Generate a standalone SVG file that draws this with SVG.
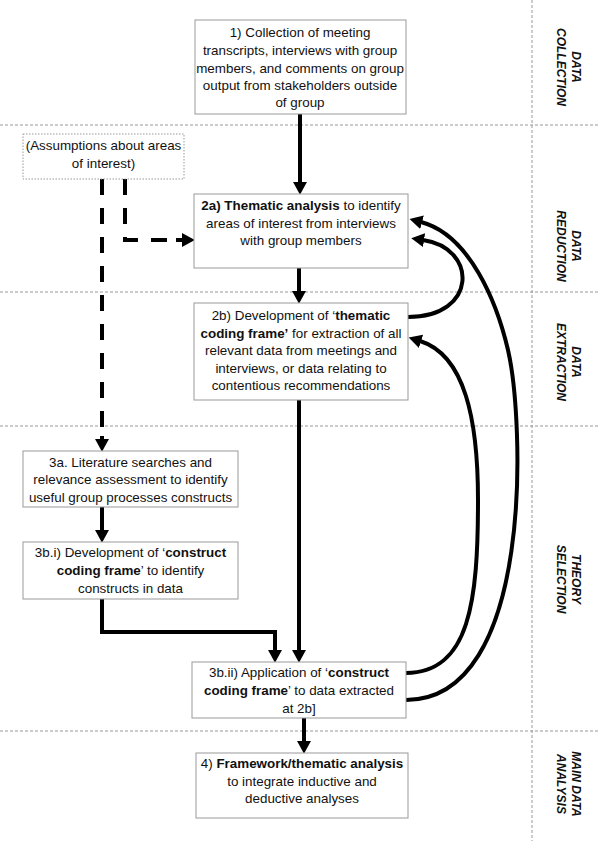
<svg xmlns="http://www.w3.org/2000/svg" width="600" height="841" viewBox="0 0 600 841">
<style>
.bg{fill:#fff}
.sep{stroke:#999;stroke-width:1;stroke-dasharray:3,2;fill:none}
.box{fill:#fff;stroke:#999;stroke-width:1}
.dbox{fill:#fff;stroke:#999;stroke-width:1;stroke-dasharray:1.5,1.5}
.t{font-family:"Liberation Sans",Arial,sans-serif;font-size:13.4px;fill:#111;text-anchor:middle}
.b{font-weight:bold}
.lab{font-family:"Liberation Sans",Arial,sans-serif;font-size:12px;font-weight:bold;font-style:italic;fill:#111;text-anchor:middle}
.ln{fill:none;stroke:#000;stroke-width:4;marker-end:url(#ah)}
.dl{fill:none;stroke:#000;stroke-width:4;stroke-dasharray:16,13}
</style>
<defs>
<marker id="ah" markerUnits="userSpaceOnUse" markerWidth="14" markerHeight="14" refX="1" refY="6.5" orient="auto" viewBox="0 0 13 13">
<path d="M0,0 L12,6.5 L0,13 z" fill="#000"/>
</marker>
</defs>
<rect class="bg" x="0" y="0" width="600" height="841"/>
<g id="separators">
<line class="sep" x1="532" y1="0" x2="532" y2="841"/>
<line class="sep" x1="0" y1="125" x2="600" y2="125"/>
<line class="sep" x1="0" y1="292" x2="600" y2="292"/>
<line class="sep" x1="0" y1="426" x2="600" y2="426"/>
<line class="sep" x1="0" y1="731" x2="600" y2="731"/>
</g>
<g id="labels">
<text class="lab" transform="translate(568,67) rotate(90)"><tspan x="0" y="-4">DATA</tspan><tspan x="0" y="11">COLLECTION</tspan></text>
<text class="lab" transform="translate(568,246) rotate(90)"><tspan x="0" y="-4">DATA</tspan><tspan x="0" y="11">REDUCTION</tspan></text>
<text class="lab" transform="translate(568,362) rotate(90)"><tspan x="0" y="-4">DATA</tspan><tspan x="0" y="11">EXTRACTION</tspan></text>
<text class="lab" transform="translate(568,579) rotate(90)"><tspan x="0" y="-4">THEORY</tspan><tspan x="0" y="11">SELECTION</tspan></text>
<text class="lab" transform="translate(568,784) rotate(90)"><tspan x="0" y="-4">MAIN DATA</tspan><tspan x="0" y="11">ANALYSIS</tspan></text>
</g>
<g id="connectors">
<path class="ln" d="M300,114 V183"/>
<path class="ln" d="M299,268 V292"/>
<path class="dl" d="M102,179 V436"/>
<path d="M102,436 V440" fill="none" stroke="#000" stroke-width="4" marker-end="url(#ah)"/>
<path class="dl" d="M125,179 V240 H175"/>
<path d="M176,240 H183" fill="none" stroke="#000" stroke-width="4" marker-end="url(#ah)"/>
<path class="ln" d="M102,507 V531"/>
<path class="ln" d="M102,599 V632 H275 V651"/>
<path class="ln" d="M299,400 V651"/>
<path class="ln" d="M304,718 V742"/>
<path class="ln" d="M408,317 C478,317 478,248 423,240"/>
<path class="ln" d="M406,673 C470,673 478,600 478,500 C478,420 465,355 420,341"/>
<path class="ln" d="M406,700 C535,700 524,420 508,350 C497,303 470,235 421,222"/>
</g>
<g id="n1">
<rect class="box" x="195" y="20" width="211" height="94"/>
<text class="t"><tspan x="300" y="37">1) Collection of meeting</tspan><tspan x="300" y="55">transcripts, interviews with group</tspan><tspan x="300" y="73">members, and comments on group</tspan><tspan x="300" y="90">output from stakeholders outside</tspan><tspan x="300" y="107">of group</tspan></text>
</g>
<g id="assumptions">
<rect class="dbox" x="23" y="134" width="161" height="45"/>
<text class="t"><tspan x="103.5" y="150">(Assumptions about areas</tspan><tspan x="103.5" y="168">of interest)</tspan></text>
</g>
<g id="n2a">
<rect class="box" x="194" y="194" width="214" height="74"/>
<text class="t"><tspan x="301" y="210"><tspan class="b">2a) Thematic analysis</tspan> to identify</tspan><tspan x="301" y="228">areas of interest from interviews</tspan><tspan x="301" y="245">with group members</tspan></text>
</g>
<g id="n2b">
<rect class="box" x="194" y="303" width="214" height="97"/>
<text class="t"><tspan x="301" y="320">2b) Development of ‘<tspan class="b">thematic</tspan></tspan><tspan x="301" y="338"><tspan class="b">coding frame’</tspan> for extraction of all</tspan><tspan x="301" y="355">relevant data from meetings and</tspan><tspan x="301" y="373">interviews, or data relating to</tspan><tspan x="301" y="390">contentious recommendations</tspan></text>
</g>
<g id="n3a">
<rect class="box" x="23" y="451" width="215" height="56"/>
<text class="t"><tspan x="130.5" y="467">3a. Literature searches and</tspan><tspan x="130.5" y="484">relevance assessment to identify</tspan><tspan x="130.5" y="502">useful group processes constructs</tspan></text>
</g>
<g id="n3bi">
<rect class="box" x="23" y="542" width="215" height="57"/>
<text class="t"><tspan x="130.5" y="557">3b.i) Development of ‘<tspan class="b">construct</tspan></tspan><tspan x="130.5" y="575"><tspan class="b">coding frame</tspan>’ to identify</tspan><tspan x="130.5" y="593">constructs in data</tspan></text>
</g>
<g id="n3bii">
<rect class="box" x="192" y="662" width="214" height="56"/>
<text class="t"><tspan x="299" y="677">3b.ii) Application of ‘<tspan class="b">construct</tspan></tspan><tspan x="299" y="695"><tspan class="b">coding frame</tspan>’ to data extracted</tspan><tspan x="299" y="713">at 2b]</tspan></text>
</g>
<g id="n4">
<rect class="box" x="196" y="753" width="212" height="65"/>
<text class="t"><tspan x="302" y="768">4) <tspan class="b">Framework/thematic analysis</tspan></tspan><tspan x="302" y="786">to integrate inductive and</tspan><tspan x="302" y="803">deductive analyses</tspan></text>
</g>
</svg>
